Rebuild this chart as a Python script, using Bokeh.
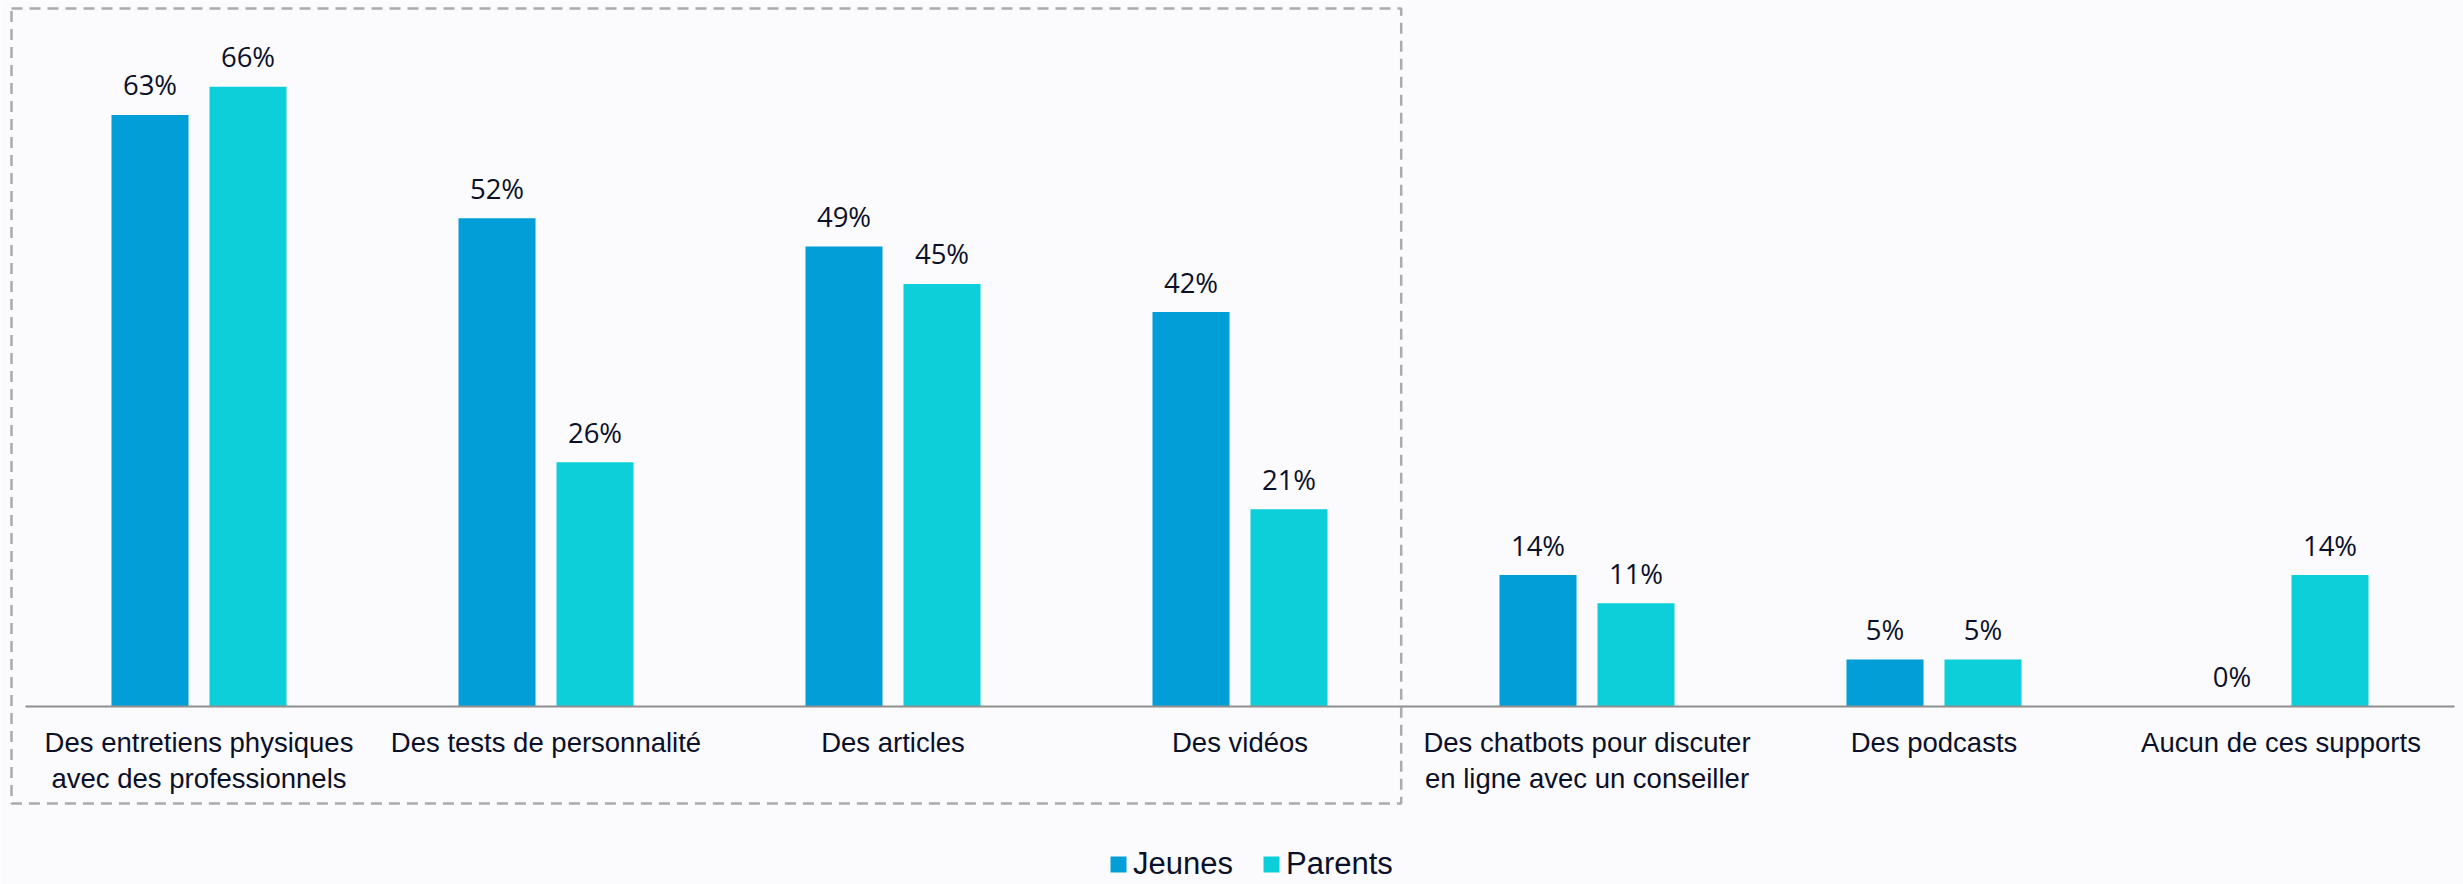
from bokeh.plotting import figure
from bokeh.models import Range1d, ColumnDataSource, Legend, LegendItem
from bokeh.embed import file_html
from bokeh.resources import INLINE
from bokeh.core.properties import value

# ---- data ----
categories = [
    "Des entretiens physiques\navec des professionnels",
    "Des tests de personnalité",
    "Des articles",
    "Des vidéos",
    "Des chatbots pour discuter\nen ligne avec un conseiller",
    "Des podcasts",
    "Aucun de ces supports",
]
jeunes = [63, 52, 49, 42, 14, 5, 0]
parents = [66, 26, 45, 21, 11, 5, 14]
series_names = ["Jeunes", "Parents"]
series_colors = ["#019ED8", "#0DCFD9"]

# ---- geometry ----
W, H = 2463, 884
px_per_cat = 347.0
left_pad_px = 25.0
px_per_pct = 9.39
axis_px = 706.0
n = len(categories)
x_start = -left_pad_px / px_per_cat
x_end = x_start + W / px_per_cat
y_end = axis_px / px_per_pct
y_start = -(H - axis_px) / px_per_pct

bg = "#FBFBFD"
text_color = "#0B1029"

p = figure(width=W, height=H, x_range=Range1d(x_start, x_end),
           y_range=Range1d(y_start, y_end), output_backend="svg",
           toolbar_location=None, background_fill_color=bg,
           border_fill_color=bg, outline_line_color=None,
           min_border=0, min_border_left=0, min_border_right=0,
           min_border_top=0, min_border_bottom=0)
p.axis.visible = False
p.xgrid.visible = False
p.ygrid.visible = False

centers = [i + 0.5 for i in range(n)]
off = 49.0 / px_per_cat
bw = 77.0 / px_per_cat

renderers = []
for vals, sign, color in zip([jeunes, parents], [-1, 1], series_colors):
    xs = [c + sign * off for c in centers]
    src = ColumnDataSource(dict(x=xs, top=vals,
                                y=[v + 30.0 / px_per_pct for v in vals],
                                lbl=[f"{v}%" for v in vals]))
    r = p.vbar(x="x", top="top", bottom=0, width=bw, source=src,
               fill_color=color, line_color=None)
    renderers.append(r)
    p.text(x="x", y="y", text="lbl", source=src, text_align="center",
           text_baseline="alphabetic", text_font=value("Open Sans"),
           text_font_size="27.5px", text_color=text_color)

# axis baseline
p.segment(x0=[0], x1=[n], y0=[0], y1=[0], line_color="#8F8F8F", line_width=2)

# category labels
p.text(x=centers, y=[-20.0 / px_per_pct] * n, text=categories,
       text_align="center", text_baseline="top",
       text_font=value("Liberation Sans"), text_font_size="27.5px",
       text_line_height=1.17, text_color=text_color)

# dashed highlight box around first 4 categories
p.quad(left=[0 - 14.0 / px_per_cat], right=[4 - 12.3 / px_per_cat],
       top=[y_end - 8.0 / px_per_pct], bottom=[-97.0 / px_per_pct],
       fill_color=None, line_color="#ABABAB", line_width=2.5, line_dash="11 7")

legend = Legend(items=[LegendItem(label=nm, renderers=[r])
                       for nm, r in zip(series_names, renderers)],
                orientation="horizontal", location=(1108, 2),
                padding=0, margin=0, spacing=28,
                border_line_color=None, background_fill_alpha=0,
                label_text_font="Liberation Sans", label_text_font_size="31px",
                label_text_color=text_color, glyph_width=20, glyph_height=20,
                label_standoff=5)
p.add_layout(legend)

open("out.html", "w").write(file_html(p, INLINE))
